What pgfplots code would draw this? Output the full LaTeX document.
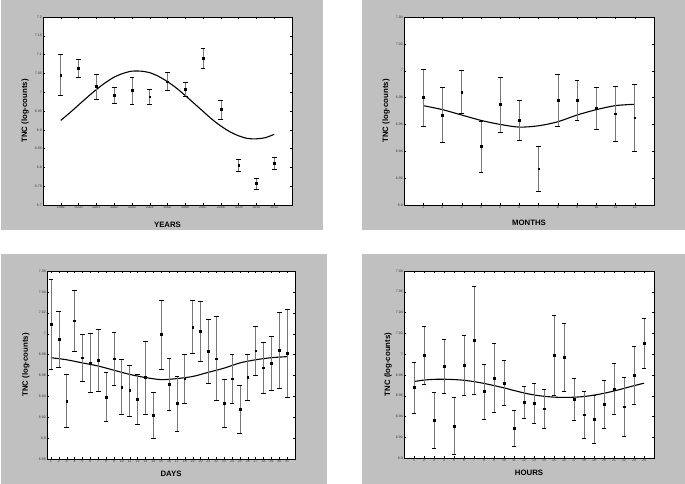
\documentclass[border=0pt]{standalone}
\usepackage{pgfplots}
\pgfplotsset{compat=1.18}
\usepackage{fontspec}
\setmainfont{Liberation Sans}
\definecolor{panelgray}{RGB}{192,192,192}
\definecolor{barcol}{RGB}{120,120,120}
\newcommand{\lblfont}{\fontsize{7.8}{8}\selectfont\bfseries}
\pgfplotsset{
  panel/.style={
    scale only axis, anchor=south west,
    axis background/.style={fill=white},
    axis line style={black, line width=0.4pt},
    tick align=inside, major tick length=2pt,
    tick style={black, line width=0.3pt},
    every tick label/.append style={font=\fontsize{3.5}{4}\selectfont, inner sep=1pt, text=black!80},
    /pgf/number format/assume math mode=true,
    /pgf/number format/1000 sep={},
    ylabel={TNC (log-counts)},
    clip=false,
  },
  errs/.style={
    only marks, mark=square*, mark size=0.9pt, mark options={black},
    error bars/.cd, y dir=both, y explicit,
    error bar style={barcol, line width=0.6pt},
    error mark options={rotate=90, mark size=2.4pt, black, line width=0.5pt},
  },
  fit/.style={black, line width=1.1pt, smooth, mark=none},
}
\begin{document}
\begin{tikzpicture}[x=1pt,y=1pt]
\fill[white] (0,0) rectangle (685,484);
\fill[panelgray] (1,254) rectangle (323,484);
\fill[panelgray] (362,254) rectangle (685,484);
\fill[panelgray] (1,0) rectangle (327,230);
\fill[panelgray] (362,0) rectangle (685,230);

% Panel 1: YEARS
\begin{axis}[panel, at={(43pt,279pt)}, width=249pt, height=188pt,
  xmin=1998, xmax=2012, ymin=6.7, ymax=7.2,
  xtick={1999,2000,2001,2002,2003,2004,2005,2006,2007,2008,2009,2010,2011},
  ytick={6.7,6.75,6.8,6.85,6.9,6.95,7,7.05,7.1,7.15,7.2},
  yticklabel style={/pgf/number format/fixed, /pgf/number format/precision=2},
  xlabel={YEARS},
  every axis x label/.style={at={(axis description cs:0.5,-0.106)}, anchor=center, font=\lblfont},
  every axis y label/.style={at={(axis description cs:-0.072,0.5)}, rotate=90, anchor=center, font=\lblfont},
]
\addplot[fit] coordinates {(1999,6.925)(1999.5,6.945)(2000,6.966)(2000.5,6.987)(2001,7.007)(2001.5,7.025)(2002,7.040)(2002.5,7.050)(2003,7.056)(2003.5,7.056)(2004,7.052)(2004.5,7.042)(2005,7.028)(2005.5,7.011)(2006,6.991)(2006.5,6.970)(2007,6.949)(2007.5,6.928)(2008,6.910)(2008.5,6.895)(2009,6.884)(2009.5,6.877)(2010,6.876)(2010.5,6.879)(2011,6.888)};
\addplot[errs] table[x=x, y=y, y error=e] {
x y e
1999 7.046 0.054
2000 7.064 0.024
2001 7.015 0.033
2002 6.992 0.022
2003 7.005 0.036
2004 6.988 0.020
2005 7.028 0.024
2006 7.008 0.019
2007 7.091 0.026
2008 6.954 0.025
2009 6.806 0.016
2010 6.757 0.015
2011 6.811 0.016
};
\end{axis}

% Panel 2: MONTHS
\begin{axis}[panel, at={(404pt,279pt)}, width=250pt, height=188pt,
  xmin=0, xmax=13, ymin=6.9, ymax=7.04,
  xtick={1,...,12},
  ytick={6.9,6.92,6.94,6.96,6.98,7,7.02,7.04},
  yticklabel style={/pgf/number format/fixed, /pgf/number format/precision=2},
  xlabel={MONTHS},
  every axis x label/.style={at={(axis description cs:0.5,-0.096)}, anchor=center, font=\lblfont},
  every axis y label/.style={at={(axis description cs:-0.072,0.5)}, rotate=90, anchor=center, font=\lblfont},
]
\addplot[fit] coordinates {(1,6.974)(2,6.971)(3,6.967)(4,6.963)(5,6.960)(6,6.958)(7,6.959)(8,6.962)(9,6.967)(10,6.971)(11,6.974)(12,6.975)};
\addplot[errs] table[x=x, y=y, y error=e] {
x y e
1 6.980 0.021
2 6.967 0.0205
3 6.984 0.016
4 6.9435 0.019
5 6.975 0.0205
6 6.963 0.015
7 6.927 0.017
8 6.978 0.0195
9 6.978 0.015
10 6.972 0.0155
11 6.968 0.0205
12 6.965 0.025
};
\end{axis}

% Panel 3: DAYS
\begin{axis}[panel, at={(47pt,25pt)}, width=248pt, height=188pt,
  xmin=0.5, xmax=32, ymin=6.88, ymax=7.06,
  xtick={1,...,31},
  ytick={6.88,6.9,6.92,6.94,6.96,6.98,7,7.02,7.04,7.06},
  yticklabel style={/pgf/number format/fixed, /pgf/number format/precision=2},
  xlabel={DAYS},
  every axis x label/.style={at={(axis description cs:0.5,-0.08)}, anchor=center, font=\lblfont},
  every axis y label/.style={at={(axis description cs:-0.085,0.5)}, rotate=90, anchor=center, font=\lblfont},
]
\addplot[fit] coordinates {(1,6.977)(3,6.975)(5,6.972)(7,6.969)(9,6.965)(11,6.961)(13,6.958)(15,6.956)(17,6.957)(19,6.959)(21,6.963)(23,6.967)(25,6.972)(27,6.975)(29,6.977)(31,6.978)};
\addplot[errs] table[x=x, y=y, y error=e] {
x y e
1 7.009 0.0428
2 6.9946 0.0265
3 6.9354 0.0254
4 7.0125 0.029
5 6.977 0.0228
6 6.972 0.0285
7 6.9744 0.0297
8 6.9392 0.0234
9 6.976 0.0258
10 6.9491 0.0262
11 6.9456 0.0244
12 6.9373 0.0236
13 6.958 0.0349
14 6.9216 0.022
15 6.9994 0.033
16 6.9514 0.0248
17 6.9331 0.0261
18 6.9568 0.0237
19 7.0064 0.0256
20 7.0022 0.0288
21 6.9834 0.0307
22 6.976 0.0402
23 6.9331 0.023
24 6.9568 0.0237
25 6.9277 0.023
26 6.958 0.0219
27 6.9837 0.0235
28 6.9674 0.024
29 6.9718 0.0256
30 6.9843 0.0365
31 6.9811 0.0421
};
\end{axis}

% Panel 4: HOURS
\begin{axis}[panel, at={(404pt,26pt)}, width=250pt, height=187pt,
  xmin=0, xmax=25, ymin=6.9, ymax=7.08,
  xtick={1,...,24},
  ytick={6.9,6.92,6.94,6.96,6.98,7,7.02,7.04,7.06,7.08},
  yticklabel style={/pgf/number format/fixed, /pgf/number format/precision=2},
  xlabel={HOURS},
  every axis x label/.style={at={(axis description cs:0.5,-0.08)}, anchor=center, font=\lblfont},
  every axis y label/.style={at={(axis description cs:-0.064,0.5)}, rotate=90, anchor=center, font=\lblfont},
]
\addplot[fit] coordinates {(1,6.9736)(2,6.975)(3,6.9757)(4,6.9758)(5,6.9755)(6,6.9748)(7,6.9735)(8,6.9718)(9,6.9697)(10,6.9675)(11,6.965)(12,6.9626)(13,6.9607)(14,6.9594)(15,6.9586)(16,6.9583)(17,6.9585)(18,6.9592)(19,6.9605)(20,6.9623)(21,6.9645)(22,6.967)(23,6.9696)(24,6.972)};
\addplot[errs] table[x=x, y=y, y error=e] {
x y e
1 6.9678 0.0248
2 6.9989 0.0275
3 6.9365 0.0268
4 6.9883 0.026
5 6.9307 0.0275
6 6.9896 0.0288
7 7.0133 0.0522
8 6.964 0.0266
9 6.9771 0.033
10 6.9723 0.0218
11 6.9285 0.0173
12 6.9534 0.0155
13 6.9531 0.0192
14 6.9474 0.0187
15 6.9989 0.0389
16 6.997 0.0327
17 6.9566 0.0203
18 6.9416 0.0229
19 6.9371 0.0231
20 6.9515 0.0229
21 6.9666 0.0245
22 6.9493 0.028
23 6.9794 0.0277
24 7.0104 0.0243
};
\end{axis}
\end{tikzpicture}
\end{document}
